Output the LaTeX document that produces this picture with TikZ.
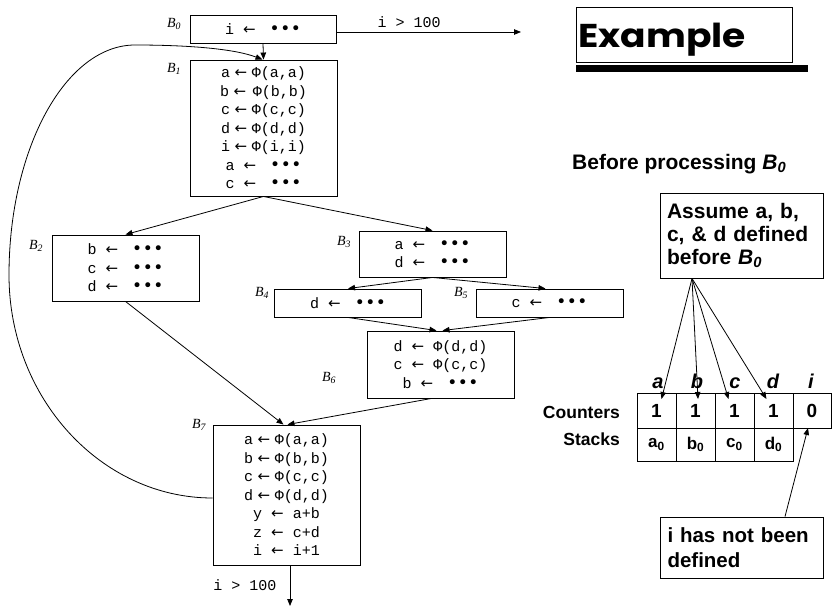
\documentclass[tikz,border=0pt]{standalone}
\usepackage{fontspec}
\usetikzlibrary{arrows.meta,calc}
\newfontfamily\monof{Liberation Mono}
\newfontfamily\sansf{Liberation Sans}
\newfontfamily\seriff{Liberation Serif}
\newfontfamily\exf{Poppins}
\newfontfamily\symf{DejaVu Sans}
\newcommand\codefont{\monof\fontsize{15}{18.5}\selectfont}
\newcommand\blkfont{\seriff\itshape\fontsize{14}{14}\selectfont}
\newcommand\Bl[1]{B\textsubscript{#1}}
% assignment arrows (tight and spaced) and the "anything" dots
\newcommand\arr{{\symf\fontsize{15}{15}\selectfont ←}}
\newcommand\asg{\kern4.5pt\arr\kern4.5pt}
\newcommand\asgs{\ \arr\ }
\newcommand\any{\kern5pt{\symf\fontsize{17}{15}\selectfont •\kern0.5pt•\kern0.5pt•}}
\tikzset{
  blk/.style={draw, line width=0.9pt, inner sep=0pt, align=center, font=\codefont},
  blab/.style={font=\blkfont, inner sep=0pt},
  flow/.style={line width=0.8pt, -{Triangle[length=7pt,width=5.5pt]}},
  cell/.style={draw, line width=0.9pt, minimum width=39pt, inner sep=0pt, outer sep=0pt},
  callout/.style={draw, line width=0.9pt, align=left, inner xsep=7pt, inner ysep=0pt,
    text width=149pt, font=\sansf\bfseries\fontsize{21}{23}\selectfont},
  big/.style={font=\sansf\bfseries\fontsize{21}{23}\selectfont, inner sep=0pt},
}
\begin{document}
\begin{tikzpicture}[x=1pt,y=-1pt]
\useasboundingbox (0,0) rectangle (832,610);

% ---- control flow graph ----
\node[blk, minimum width=146pt, minimum height=28pt] (b0) at (263,29) {i\asgs\any};
\node[blk, minimum width=147pt, minimum height=136pt] (b1) at (263.5,128)
  {a\asg Φ(a,a)\\b\asg\kern2pt Φ(b,b)\\c\asg Φ(c,c)\\d\asg Φ(d,d)\\i\asg Φ(i,i)\\a\asgs\any\\c\asgs\any};
\node[blk, minimum width=147pt, minimum height=66pt] (b2) at (125.5,268)
  {b\asgs\any\\c\asgs\any\\d\asgs\any};
\node[blk, minimum width=147pt, minimum height=46pt] (b3) at (432.5,254)
  {a\asgs\any\\d\asgs\any};
\node[blk, minimum width=147pt, minimum height=28pt] (b4) at (348,303) {d\asgs\any};
\node[blk, minimum width=147pt, minimum height=28pt] (b5) at (549.5,303) {c\asgs\any};
\node[blk, minimum width=147pt, minimum height=67pt] (b6) at (440.5,364.5)
  {d\asgs Φ(d,d)\\c\asgs Φ(c,c)\\b\asgs\any};
\node[blk, minimum width=147pt, minimum height=140pt] (b7) at (286.5,495)
  {a\asg Φ(a,a)\\b\asg Φ(b,b)\\c\asg Φ(c,c)\\d\asg Φ(d,d)\\y\asgs a+b\\z\asgs c+d\\i\asgs i+1};

% block names
\node[blab] (n0) at (174,24) {\Bl{0}};
\node[blab] (n1) at (174,69) {\Bl{1}};
\node[blab] (n2) at (36,246) {\Bl{2}};
\node[blab] (n3) at (344,242) {\Bl{3}};
\node[blab] (n4) at (262,293) {\Bl{4}};
\node[blab] (n5) at (461,293) {\Bl{5}};
\node[blab] (n6) at (329,378) {\Bl{6}};
\node[blab] (n7) at (199,425) {\Bl{7}};

% edges
\coordinate (exit0) at (521,32);
\coordinate (exit7) at (290,606);
\draw[flow] ([yshift=-3pt]b0.east) -- (exit0);
\node[font=\codefont, anchor=base, inner sep=0pt] (t0) at (409,28) {i > 100};
\draw[flow] (b0.south) -- (b1.north);
\draw[flow] (b1.south) -- (b2.north);
\draw[flow] (b1.south) -- (b3.north);
\draw[flow] (b3.south) -- (b4.north);
\draw[flow] (b3.south) -- ([xshift=-4pt]b5.north);
\draw[flow] (b4.south) -- ([xshift=-4pt]b6.north);
\draw[flow] (b5.south) -- ([xshift=2pt]b6.north);
\draw[flow] (b2.south) -- ([xshift=-3pt]b7.north);
\draw[flow] ([xshift=-9pt]b6.south) -- ([xshift=1pt]b7.north);
\draw[flow] ([yshift=-3pt]b7.west) .. controls (101,498) and (9,398) .. (9,275)
  .. controls (9,148) and (66,45) .. (135,45)
  .. controls (190,45) and (235,49) .. ([xshift=-1pt]b1.north);
\draw[flow] ([xshift=3.5pt]b7.south) -- (exit7);
\node[font=\codefont, anchor=base, inner sep=0pt] (t7) at (245,590) {i > 100};

% ---- title ----
\node[draw, line width=0.9pt, minimum width=216pt, minimum height=55pt, inner sep=0pt] (title) at (684,34.5) {};
\node[font=\exf\bfseries\fontsize{33}{33}\selectfont, anchor=base west, inner sep=0pt] (ttext) at (578,48) {\scalebox{1.14}[1]{Example}};
\fill (576,65) rectangle (808,72);

\node[big, anchor=base west] (before) at (572,169) {Before processing \textit{B}\textsubscript{\textit{0}}};

% ---- counters and stacks ----
\node[callout, minimum height=85pt] (asm) at (741.5,235.5)
  {Assume a, b, c, \& d defined before \textit{B}\textsubscript{\textit{0}}};

\foreach \nm/\x in {a/656.5, b/695.5, c/734.5, d/773.5}{
  \node[cell, minimum height=35pt, font=\sansf\bfseries\fontsize{19}{19}\selectfont] (c\nm) at (\x,410.5) {1};
  \node[cell, minimum height=33pt, font=\sansf\bfseries\fontsize{17}{17}\selectfont] (s\nm) at (\x,444.5) {\nm\textsubscript{0}};
}
\node[cell, minimum width=38pt, minimum height=35pt, font=\sansf\bfseries\fontsize{19}{19}\selectfont] (ci) at (812,410.5) {0};

\foreach \nm/\x in {a/658, b/697, c/735, d/773, i/811}{
  \node[font=\sansf\bfseries\itshape\fontsize{20}{20}\selectfont, anchor=base, inner sep=0pt] (l\nm) at (\x,388) {\nm};
}

\node[font=\sansf\bfseries\fontsize{17.5}{17.5}\selectfont, anchor=base east, inner sep=0pt] (cnt) at (620,418) {Counters};
\node[font=\sansf\bfseries\fontsize{17.5}{17.5}\selectfont, anchor=base east, inner sep=0pt] (stk) at (620,445) {Stacks};

\draw[flow] ([xshift=-49.5pt]asm.south) -- ([xshift=5pt,yshift=-6pt]ca.north);
\draw[flow] ([xshift=-49.5pt]asm.south) -- ([xshift=2.5pt,yshift=-6pt]cb.north);
\draw[flow] ([xshift=-49.5pt]asm.south) -- ([xshift=-6pt,yshift=-6pt]cc.north);
\draw[flow] ([xshift=-49.5pt]asm.south) -- ([xshift=-7pt,yshift=-6pt]cd.north);

\node[callout, font=\sansf\bfseries\fontsize{20.5}{25}\selectfont, minimum height=61pt] (undef) at (742,547.5)
  {i has not been defined};
\draw[flow] ([xshift=43pt]undef.north) -- ([xshift=-4pt]ci.south);
\end{tikzpicture}
\end{document}
